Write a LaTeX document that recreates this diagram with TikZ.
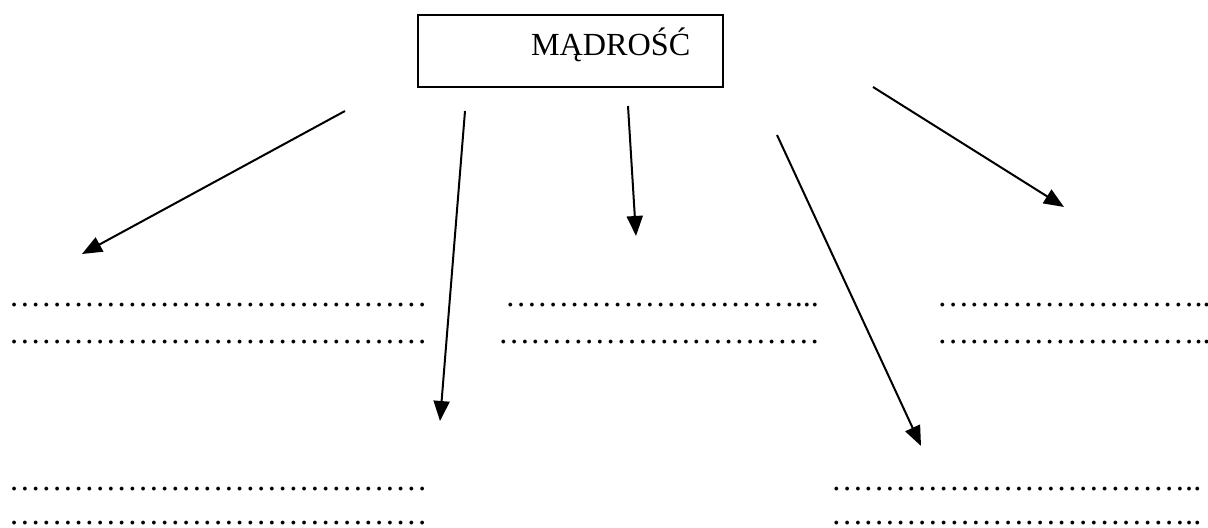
\documentclass[tikz,border=0pt]{standalone}
\usepackage{fontspec}
\setmainfont{Liberation Serif}
\usetikzlibrary{arrows.meta}
\newcommand\kropki[1]{\foreach \i in {1,...,#1}{…}}
\begin{document}
\begin{tikzpicture}[x=0.5pt,y=-0.5pt,
	every node/.style={font=\fontsize{16.1}{19}\selectfont,inner sep=0pt},
	dots/.style={anchor=base west},
	arr/.style={line width=1pt,-{Triangle[length=10pt,width=8pt]}}]
	\useasboundingbox (0,0) rectangle (1208,528);
	\node [draw,line width=1pt,anchor=north west,text width=152.5pt,minimum height=36pt,text height=11pt,text depth=6pt,align=left](madrosc) at (417,14) {\hspace*{56.5pt}MĄDROŚĆ};

	\coordinate (s1) at (345,111);
	\coordinate (s2) at (465,111);
	\coordinate (s3) at (628,106);
	\coordinate (s4) at (777,135);
	\coordinate (s5) at (873,87);
	\coordinate (t1) at (82,254);
	\coordinate (t2) at (440,421);
	\coordinate (t3) at (636,236);
	\coordinate (t4) at (921,446);
	\coordinate (t5) at (1064,207);

	\node [dots](r1a) at (8.6,307) {\kropki{13}};
	\node [dots](r1b) at (504.6,307) {\kropki{9}...};
	\node [dots](r1c) at (936.6,307) {\kropki{8}..};
	\node [dots](r2a) at (8.6,344) {\kropki{13}};
	\node [dots](r2b) at (497.6,344) {\kropki{10}};
	\node [dots](r2c) at (936.6,344) {\kropki{8}..};
	\node [dots](r3a) at (8.6,490) {\kropki{13}};
	\node [dots](r3b) at (830.6,490) {\kropki{11}..};
	\node [dots](r4a) at (8.6,524) {\kropki{13}};
	\node [dots](r4b) at (830.6,524) {\kropki{11}..};

	\draw [arr] (s1) -- (t1);
	\draw [arr] (s2) -- (t2);
	\draw [arr] (s3) -- (t3);
	\draw [arr] (s4) -- (t4);
	\draw [arr] (s5) -- (t5);
\end{tikzpicture}
\end{document}
